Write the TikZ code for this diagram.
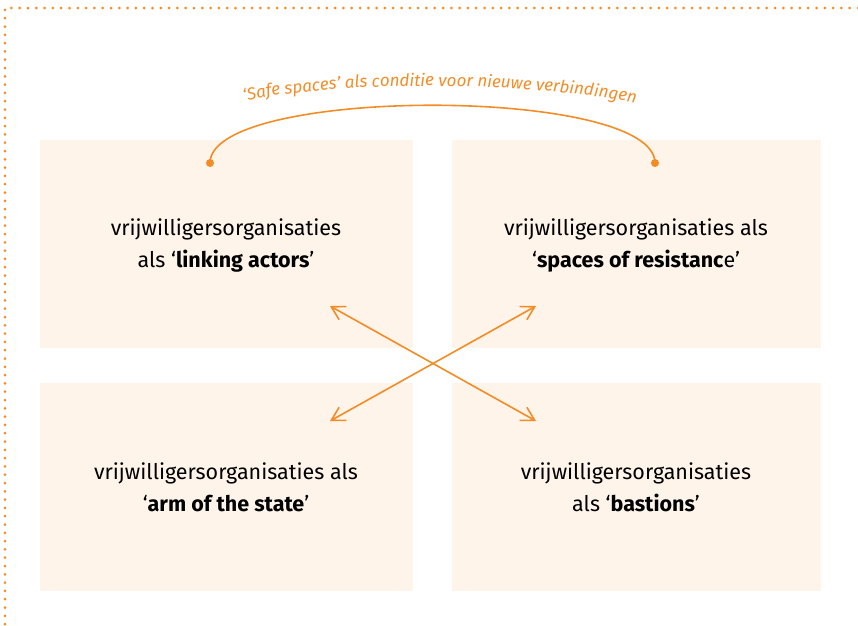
\documentclass[tikz,border=0pt]{standalone}
\usepackage{fontspec}
\setmainfont{Fira Sans}
\usetikzlibrary{arrows.meta,decorations.text}
\definecolor{orng}{RGB}{244,140,38}
\definecolor{boxfill}{RGB}{254,244,234}
\newcommand{\labelfont}{\fontsize{17}{19}\selectfont\itshape\color{orng}}
\tikzset{
  panel/.style={fill=boxfill, draw=none, inner sep=0pt, anchor=north west},
  ptext/.style={align=center, font=\fontsize{21.5}{32}\selectfont, text=black},
  xarrow/.style={draw=orng, line width=1.6pt, {Straight Barb[length=13pt,width=15pt]}-{Straight Barb[length=13pt,width=15pt]}},
  dotborder/.style={draw=orng, line width=3pt, line cap=round, dash pattern=on 0pt off 8.3pt},
}
\begin{document}
\begin{tikzpicture}[x=1pt,y=-1pt]
\useasboundingbox (0,0) rectangle (858,625);
% dotted frame
\draw[dotborder] (858,8) -- (5,8) -- (5,625);
% panels
\node[panel, minimum width=373pt, minimum height=208pt] (tl) at (40,140) {};
\node[panel, minimum width=369pt, minimum height=208pt] (tr) at (452,140) {};
\node[panel, minimum width=373pt, minimum height=208pt] (bl) at (40,383) {};
\node[panel, minimum width=369pt, minimum height=208pt] (br) at (452,383) {};
% texts (anchor base = baseline of last line)
\node[ptext, anchor=base] (ttl) at (226,267) {vrijwilligersorganisaties\\als ‘\textbf{linking actors}’};
\node[ptext, anchor=base] (ttr) at (636,267) {vrijwilligersorganisaties als\\‘\textbf{spaces of resistanc}e’};
\node[ptext, anchor=base] (tbl) at (226,511) {vrijwilligersorganisaties als\\‘\textbf{arm of the state}’};
\node[ptext, anchor=base] (tbr) at (636,511) {vrijwilligersorganisaties\\als ‘\textbf{bastions}’};
% arrows
\coordinate (a1) at (330,306);
\coordinate (a2) at (536,421);
\coordinate (a3) at (536,306);
\coordinate (a4) at (330,421);
\draw[xarrow] (a1) -- (a2);
\draw[xarrow] (a3) -- (a4);
% arc
\coordinate (s1) at (210,163);
\coordinate (s2) at (655,163);
\draw[orng, line width=1.6pt] (s1) .. controls (210,86) and (655,86) .. (s2);
\fill[orng] (s1) circle (4pt);
\fill[orng] (s2) circle (4pt);
% curved label
\coordinate (l1) at (236,103);
\coordinate (l2) at (644,105);
\path[decorate, decoration={text along path, text align=center,
  text={|\labelfont|‘Safe spaces’ als conditie voor nieuwe verbindingen}}]
  (l1) .. controls (330,80) and (530,80) .. (l2);
\end{tikzpicture}
\end{document}
